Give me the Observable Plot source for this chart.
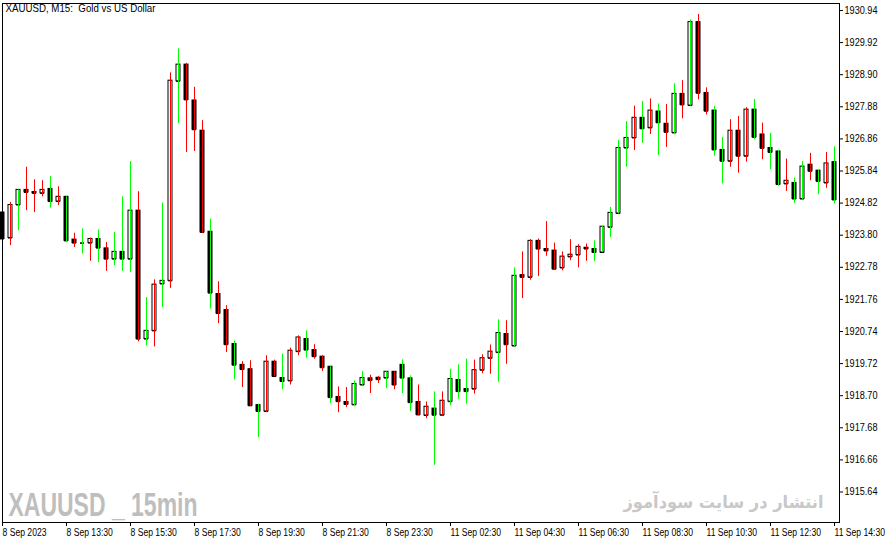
<!DOCTYPE html>
<html><head><meta charset="utf-8">
<script src="https://cdn.jsdelivr.net/npm/d3@7"></script>
<script src="https://cdn.jsdelivr.net/npm/@observablehq/plot@0.6"></script>
<style>html,body{margin:0;padding:0;background:#fff;overflow:hidden}#chart svg{display:block}</style>
</head><body><div id="chart"></div>
<script>
const opens = [
1924.52,1923.71,1924.76,1925.24,1925.17,1925.13,1925.27,1924.87,1925.02,1923.66,
1923.55,1923.55,1923.68,1923.38,1923.04,1923.27,1923.04,1924.58,1920.50,1920.76,
1922.25,1922.35,1928.69,1929.22,1928.08,1927.12,1923.91,1921.93,1921.42,1920.34,
1919.68,1919.54,1918.40,1918.20,1919.78,1919.26,1919.17,1920.10,1920.50,1920.15,
1919.94,1919.62,1918.66,1918.50,1918.41,1919.04,1919.25,1919.27,1919.26,1919.46,
1919.68,1919.25,1918.50,1918.07,1918.29,1918.08,1918.51,1919.20,1918.91,1918.91,
1919.51,1919.89,1920.07,1920.66,1920.28,1922.53,1922.46,1923.62,1923.36,1923.31,
1922.76,1923.11,1923.17,1923.40,1923.36,1923.25,1924.05,1924.49,1926.57,1926.89,
1927.53,1927.21,1927.73,1927.34,1927.05,1928.29,1927.92,1930.57,1928.32,1927.76,
1926.51,1926.15,1927.12,1926.31,1927.79,1927.00,1926.57,1926.46,1925.43,1925.46,
1924.95,1926.04,1925.85,1925.46,1926.12];
const highs = [
1924.56,1924.84,1925.24,1925.96,1925.56,1925.53,1925.66,1925.34,1925.02,1923.86,
1924.00,1923.71,1923.97,1923.57,1923.89,1925.02,1926.14,1925.18,1921.82,1922.38,
1924.82,1928.96,1929.72,1929.26,1928.50,1927.44,1924.31,1922.32,1921.56,1920.44,
1919.78,1919.81,1918.43,1919.97,1919.83,1920.02,1920.21,1920.60,1920.76,1920.32,
1919.97,1919.62,1918.98,1918.96,1919.17,1919.46,1919.35,1919.31,1919.46,1919.46,
1919.84,1919.33,1919.04,1918.50,1918.82,1918.82,1919.54,1919.68,1919.86,1919.83,
1920.00,1920.31,1921.11,1921.08,1922.76,1923.27,1923.66,1923.68,1924.23,1923.55,
1923.27,1923.66,1923.50,1923.52,1923.62,1924.07,1924.68,1926.81,1927.41,1927.90,
1928.05,1928.13,1927.97,1927.95,1928.61,1928.71,1930.64,1930.81,1928.48,1927.89,
1926.91,1927.47,1927.57,1927.85,1928.11,1927.36,1927.04,1926.49,1926.22,1925.62,
1926.14,1926.40,1925.88,1926.43,1926.61];
const lows = [
1923.60,1923.47,1923.94,1924.58,1924.52,1925.02,1924.66,1924.74,1923.60,1923.41,
1923.20,1922.97,1922.93,1922.65,1922.83,1922.65,1922.62,1920.41,1920.28,1920.25,
1921.50,1922.11,1927.34,1926.43,1926.46,1923.86,1921.45,1920.99,1920.07,1919.20,
1918.96,1918.35,1917.37,1918.16,1919.30,1918.89,1919.04,1919.97,1919.89,1919.86,
1919.47,1918.45,1918.16,1918.32,1918.38,1919.03,1918.77,1919.09,1918.93,1918.89,
1918.77,1918.20,1918.06,1917.97,1916.49,1918.06,1918.38,1918.59,1918.43,1918.75,
1919.40,1919.38,1919.12,1919.70,1920.26,1921.79,1922.37,1922.49,1923.13,1922.70,
1922.67,1922.99,1922.76,1922.97,1922.97,1923.25,1923.73,1924.47,1925.96,1926.49,
1926.72,1927.00,1926.33,1926.59,1927.02,1927.50,1927.90,1928.10,1927.62,1926.31,
1925.43,1925.96,1925.77,1926.12,1926.83,1926.20,1925.88,1925.35,1925.19,1924.81,
1924.93,1925.53,1925.09,1925.29,1924.79];
const closes = [
1923.68,1924.76,1925.24,1925.16,1925.13,1925.24,1924.87,1925.02,1923.62,1923.55,
1923.55,1923.68,1923.39,1923.04,1923.27,1923.04,1924.58,1920.50,1920.76,1922.23,
1922.35,1928.71,1929.22,1928.10,1927.15,1923.89,1921.96,1921.31,1920.32,1919.67,
1919.53,1918.38,1918.20,1919.78,1919.31,1919.15,1920.13,1920.55,1920.15,1919.94,
1919.59,1918.64,1918.51,1918.42,1919.07,1919.26,1919.18,1919.21,1919.46,1919.04,
1919.26,1918.48,1918.09,1918.35,1918.08,1918.54,1919.23,1918.83,1918.83,1919.51,
1919.89,1920.10,1920.69,1920.32,1922.51,1922.46,1923.62,1923.36,1923.30,1922.72,
1923.12,1923.18,1923.43,1923.36,1923.25,1924.07,1924.51,1926.57,1926.89,1927.53,
1927.18,1927.76,1927.37,1927.07,1928.29,1927.94,1930.57,1928.31,1927.74,1926.51,
1926.15,1927.12,1926.31,1927.79,1926.91,1926.56,1926.43,1925.41,1925.53,1924.95,
1925.98,1925.83,1925.51,1926.08,1924.92];
// shadow (wick) tick direction as drawn: u = up tick, d = down tick
const wickDir = [
"d","d","u","d","d","d","u","d","u","d",
"u","d","u","d","u","u","u","d","u","d",
"u","d","u","d","d","d","u","d","d","u",
"d","d","u","d","d","u","d","d","u","d",
"d","u","d","d","u","u","d","d","u","d",
"u","u","d","d","u","d","u","u","u","d",
"d","d","u","d","u","d","d","d","d","d",
"d","d","d","d","u","u","u","u","u","d",
"u","d","u","d","u","d","u","d","d","u",
"u","d","d","d","u","d","u","u","d","u",
"u","d","u","d","u"];
const yTicks = [1930.94,1929.92,1928.90,1927.88,1926.86,1925.84,1924.82,1923.80,1922.78,1921.76,1920.74,1919.72,1918.70,1917.68,1916.66,1915.64];
const xTickIdx = [0,8,16,24,32,40,48,56,64,72,80,88,96,104];
const xTickLabels = ["8 Sep 2023","8 Sep 13:30","8 Sep 15:30","8 Sep 17:30","8 Sep 19:30","8 Sep 21:30","8 Sep 23:30","11 Sep 02:30","11 Sep 04:30","11 Sep 06:30","11 Sep 08:30","11 Sep 10:30","11 Sep 12:30","11 Sep 14:30"];
const titleText = "XAUUSD, M15:\u00a0 Gold vs US Dollar";
const watermarkText = "XAUUSD _ 15min";
const siteText = "انتشار در سایت سودآموز";

const data = opens.map((o, i) => ({i, open: o, high: highs[i], low: lows[i], close: closes[i], dir: wickDir[i]}));
const bull = data.filter(d => d.close >= d.open);
const bear = data.filter(d => d.close < d.open);
const half = 0.25;
const baseFont = "'Liberation Sans', 'DejaVu Sans', sans-serif";

const chart = Plot.plot({
  width: 892,
  height: 543,
  marginLeft: 2,
  marginRight: 53,
  marginTop: 3,
  marginBottom: 21,
  x: {type: "linear", domain: [0, 104.625], axis: null},
  y: {type: "linear", domain: [1914.671, 1931.162], axis: null},
  style: {background: "white", color: "black", fontFamily: baseFont, fontSize: "10px"},
  marks: [
    Plot.text([watermarkText], {frameAnchor: "bottom-left", dx: 6, dy: -7, text: d => d, textAnchor: "start", lineAnchor: "bottom", fontSize: 34, fontWeight: "bold", fill: "#bebebe", fontFamily: baseFont}),
    Plot.text([siteText], {frameAnchor: "bottom-right", dx: -16, dy: -15, text: d => d, textAnchor: "end", lineAnchor: "bottom", fontSize: 17.5, fontWeight: "bold", fill: "#c8c8c8", fontFamily: "'DejaVu Sans', 'Noto Sans', sans-serif"}),
    Plot.ruleY(data, {y: "open", x1: d => d.i - half, x2: d => d.i + half, stroke: "black"}),
    Plot.ruleY(data, {y: "close", x1: d => d.i - half, x2: d => d.i + half, stroke: "black"}),
    Plot.rect(bull, {x1: d => d.i - half, x2: d => d.i + half, y1: "open", y2: "close", fill: "white", stroke: "black", strokeWidth: 1}),
    Plot.rect(bear, {x1: d => d.i - half, x2: d => d.i + half, y1: "open", y2: "close", fill: "black", stroke: "black", strokeWidth: 1}),
    Plot.ruleX(data.filter(d => d.dir === "u"), {x: "i", y1: "low", y2: "high", stroke: "#00ff00", strokeWidth: 1}),
    Plot.ruleX(data.filter(d => d.dir === "d"), {x: "i", y1: "low", y2: "high", stroke: "#ff0000", strokeWidth: 1}),
    Plot.frame({stroke: "black"}),
    Plot.text([titleText], {frameAnchor: "top-left", dx: 3, dy: 1, text: d => d, textAnchor: "start", lineAnchor: "top", fontSize: 11, fill: "black", fontFamily: baseFont}),
    Plot.axisY({anchor: "right", ticks: yTicks, tickSize: 3, tickPadding: 2, tickFormat: d => d.toFixed(2), label: null, fontSize: 10}),
    Plot.axisX({anchor: "bottom", ticks: xTickIdx, tickSize: 4, tickPadding: 2, textAnchor: "start", tickFormat: d => xTickLabels[xTickIdx.indexOf(d)], label: null, fontSize: 10})
  ]
});
document.getElementById("chart").appendChild(chart);

// condense texts to the reference's narrow font widths
const yStrings = yTicks.map(d => d.toFixed(2));
d3.select(chart).selectAll("text").each(function () {
  const t = this.textContent;
  const w = this.getComputedTextLength();
  let target = null;
  if (t === watermarkText) target = 189;
  else if (t === siteText) target = 200;
  else if (t === titleText) target = 150;
  else if (yStrings.includes(t)) target = Math.min(w, 33);
  else if (xTickLabels.includes(t)) target = w * 0.86;
  if (target != null && w > 0) {
    this.setAttribute("textLength", target);
    this.setAttribute("lengthAdjust", "spacingAndGlyphs");
  }
});
</script></body></html>
